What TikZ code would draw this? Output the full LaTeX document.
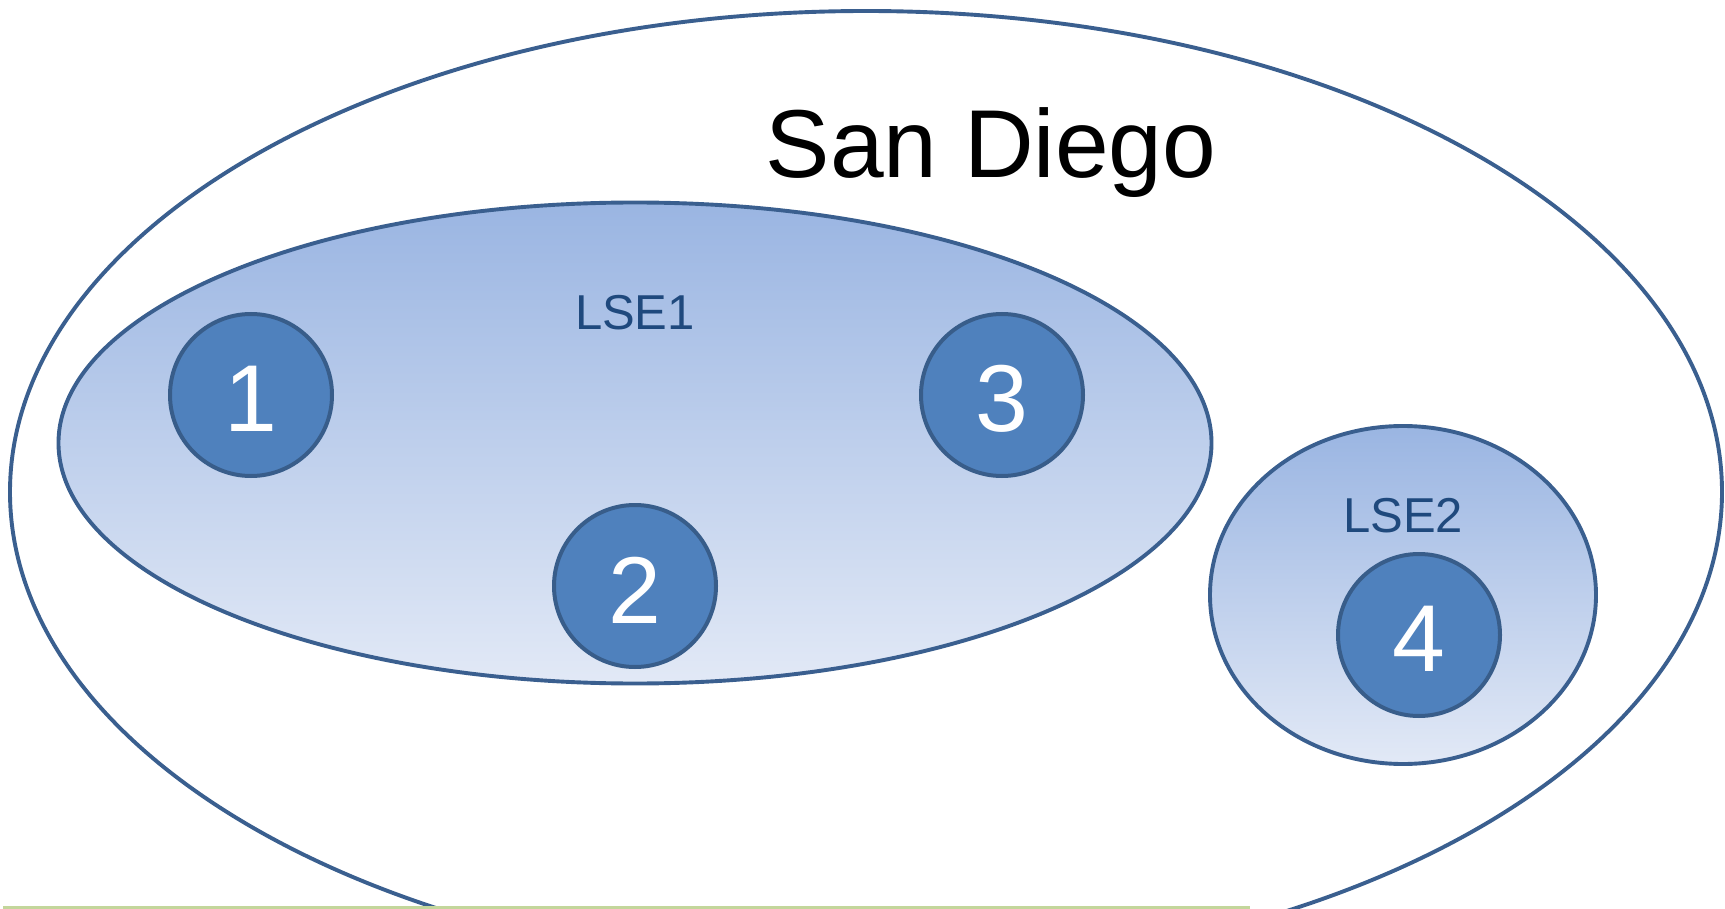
\documentclass[tikz,border=0pt]{standalone}
\usepackage{fontspec}
\setmainfont{Liberation Sans}
\usetikzlibrary{shapes.geometric}
\definecolor{edge}{HTML}{3A5F8F}
\definecolor{circfill}{HTML}{4F81BD}
\definecolor{circedge}{HTML}{385D8A}
\definecolor{gradtop}{HTML}{9AB5E2}
\definecolor{gradbot}{HTML}{E2E9F6}
\definecolor{lsetext}{HTML}{1F497D}
\definecolor{greenline}{HTML}{C3D69B}
\tikzset{
  region/.style={ellipse, draw=edge, line width=3.9pt, inner sep=0pt},
  zone/.style={region, top color=gradtop, bottom color=gradbot},
  site/.style={circle, draw=circedge, line width=4pt, fill=circfill, inner sep=0pt,
    minimum size=162pt},
  digit/.style={text=white, font=\fontsize{95}{95}\selectfont, inner sep=0pt},
  zonelabel/.style={text=lsetext, font=\fontsize{49}{49}\selectfont, inner sep=0pt},
}
\begin{document}
\begin{tikzpicture}[x=1pt,y=-1pt]
\useasboundingbox (0,0) rectangle (1725,909);
\clip (0,0) rectangle (1725,909);
\fill[white] (0,0) rectangle (1725,909);
\node[region, minimum width=1712pt, minimum height=962pt] (sd) at (866,492) {};
\node[font=\fontsize{96.5}{96.5}\selectfont, anchor=base] (sdl) at (991,178) {San Diego};
\node[zone, minimum width=1153pt, minimum height=481pt] (lse1) at (635,443) {};
\node[zone, minimum width=386pt, minimum height=338pt] (lse2) at (1403,595) {};
\node[zonelabel] (l1) at (635,313) {LSE1};
\node[zonelabel] (l2) at (1403,516) {LSE2};
\node[site] (s1) at (251,395) {};
\node[site] (s2) at (635,586) {};
\node[site] (s3) at (1002,395) {};
\node[site] (s4) at (1419,635) {};
\node[digit] (d1) at ([yshift=-4pt]s1.center) {1};
\node[digit] (d2) at ([yshift=-4pt]s2.center) {2};
\node[digit] (d3) at ([yshift=-4pt]s3.center) {3};
\node[digit] (d4) at ([yshift=-4pt]s4.center) {4};
\coordinate (ga) at (3,907);
\coordinate (gb) at (1250,907);
\draw[greenline, line width=3pt] (ga) -- (gb);
\end{tikzpicture}
\end{document}
